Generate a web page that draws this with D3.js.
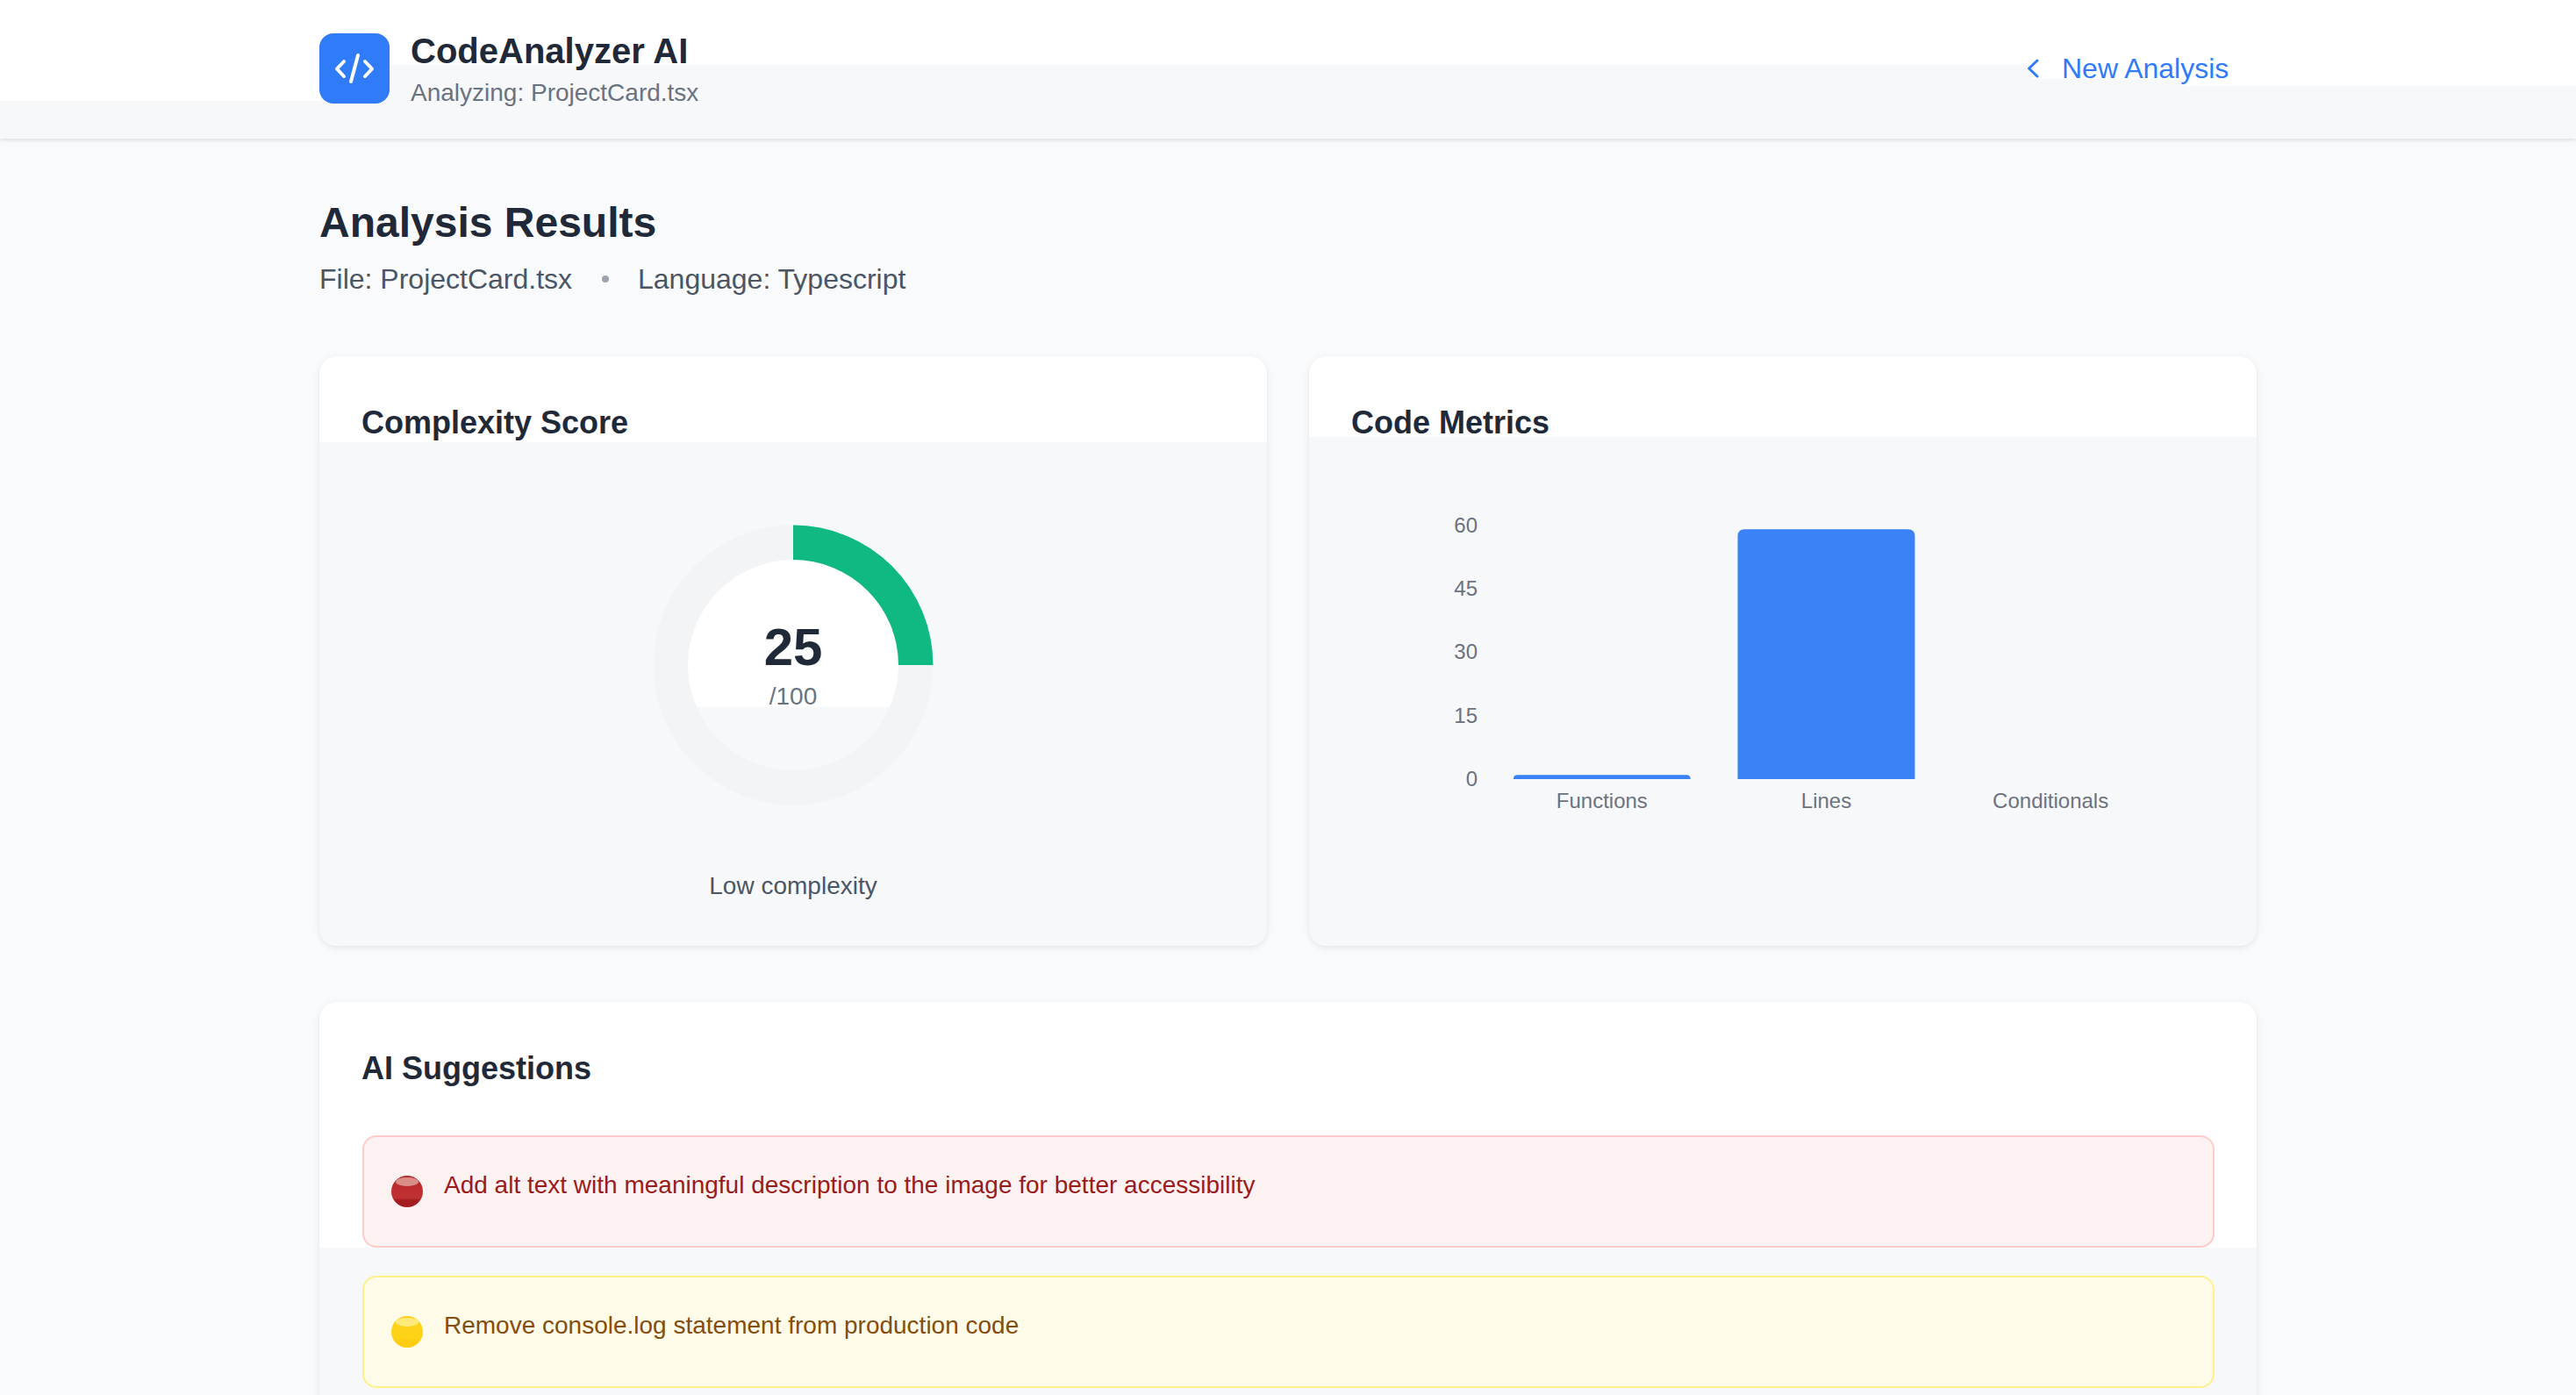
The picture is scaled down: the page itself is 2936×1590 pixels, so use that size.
<!DOCTYPE html>
<html>
<head>
<meta charset="utf-8">
<title>CodeAnalyzer AI</title>
<script src="https://cdn.jsdelivr.net/npm/d3@7"></script>
<style>
    html, body { margin: 0; padding: 0; background: #f9fafb; overflow: hidden; }
    svg { display: block; font-family: "Liberation Sans", Arial, sans-serif; }
    .card { filter: drop-shadow(0 2px 3px rgba(0, 0, 0, 0.09)); }
    .axis text { font-family: "Liberation Sans", Arial, sans-serif; font-size: 24px; fill: #6b7280; }
</style>
</head>
<body>
<div id="chart"></div>
<script>
// 图表数据
const metricNames = ["Functions", "Lines", "Conditionals"];
const metricValues = [1, 59, 0];
const metricTicks = [0, 15, 30, 45, 60];
const complexityScore = 25;
const complexityMax = 100;
const suggestionTexts = [
    "Add alt text with meaningful description to the image for better accessibility",
    "Remove console.log statement from production code"
];
const suggestionKinds = ["red", "yellow"];

const width = 2936;
const height = 1590;
const PATCH = "#f7f8fa";

const svg = d3.select("#chart")
    .append("svg")
    .attr("width", width)
    .attr("height", height);

const defs = svg.append("defs");

function addText(parent, str, x, y, size, color, weight, anchor) {
    return parent.append("text")
        .attr("x", x)
        .attr("y", y)
        .attr("font-size", size)
        .attr("font-weight", weight || "normal")
        .attr("text-anchor", anchor || "start")
        .attr("fill", color)
        .text(str);
}

// 页头
const header = svg.append("g");
header.append("rect").attr("y", 0).attr("width", width).attr("height", 158).attr("fill", PATCH)
    .style("filter", "drop-shadow(0 2px 2px rgba(0,0,0,0.1))");
header.append("rect").attr("width", width).attr("height", 74).attr("fill", "#fff");
header.append("rect").attr("width", 365).attr("height", 115).attr("fill", "#fff");
header.append("rect").attr("x", 2316).attr("width", 180).attr("height", 90).attr("fill", "#fff");
header.append("rect").attr("x", 2492).attr("width", 444).attr("height", 98).attr("fill", "#fff");

header.append("rect")
    .attr("x", 364).attr("y", 38)
    .attr("width", 80).attr("height", 80)
    .attr("rx", 16)
    .attr("fill", "#2f7bf8");

// 图标 </>
const codeIcon = d3.line();
[[[392, 70], [384, 78.5], [392, 87]],
 [[416, 70], [424, 78.5], [416, 87]],
 [[408, 63], [400, 93]]].forEach(p => {
    header.append("path")
        .attr("d", codeIcon(p))
        .attr("fill", "none")
        .attr("stroke", "#fff")
        .attr("stroke-width", 4)
        .attr("stroke-linecap", "round")
        .attr("stroke-linejoin", "round");
});

addText(header, "CodeAnalyzer AI", 468, 72, 40, "#1f2937", "bold");
addText(header, "Analyzing: ProjectCard.tsx", 468, 115, 28, "#6b7280");

header.append("path")
    .attr("d", d3.line()([[2322, 69], [2312.5, 78], [2322, 87]]))
    .attr("fill", "none")
    .attr("stroke", "#2f7bf8")
    .attr("stroke-width", 3)
    .attr("stroke-linecap", "round")
    .attr("stroke-linejoin", "round");
addText(header, "New Analysis", 2350, 89, 32, "#2f7bf8");

// 标题
addText(svg, "Analysis Results", 364, 270, 48, "#1f2937", "bold");
addText(svg, "File: ProjectCard.tsx", 364, 329, 32, "#4b5563");
svg.append("circle").attr("cx", 690).attr("cy", 318).attr("r", 4).attr("fill", "#9ca3af");
addText(svg, "Language: Typescript", 727, 329, 32, "#4b5563");

// 卡片：上半白色，下半灰色
function addCard(id, x, y, w, h, splitY) {
    const g = svg.append("g").attr("class", "card");
    g.append("rect")
        .attr("x", x).attr("y", y)
        .attr("width", w).attr("height", h)
        .attr("rx", 20)
        .attr("fill", "#fff");
    defs.append("clipPath").attr("id", id)
        .append("rect")
        .attr("x", x).attr("y", y)
        .attr("width", w).attr("height", h)
        .attr("rx", 20);
    svg.append("rect")
        .attr("clip-path", `url(#${id})`)
        .attr("x", x).attr("y", splitY)
        .attr("width", w).attr("height", y + h - splitY)
        .attr("fill", PATCH);
}

addCard("clip-score", 364, 406, 1080, 672, 504);
addCard("clip-metrics", 1492, 406, 1080, 672, 498);
addCard("clip-suggest", 364, 1142, 2208, 600, 1422);

addText(svg, "Complexity Score", 412, 494, 36, "#1f2937", "bold");
addText(svg, "Code Metrics", 1540, 494, 36, "#1f2937", "bold");
addText(svg, "AI Suggestions", 412, 1230, 36, "#1f2937", "bold");

// 环形图
const donutX = 904, donutY = 758, outerR = 159.5, innerR = 120;
const angle = d3.scaleLinear().domain([0, complexityMax]).range([0, 2 * Math.PI]);
const arc = d3.arc().innerRadius(innerR).outerRadius(outerR);
const donut = svg.append("g").attr("transform", `translate(${donutX},${donutY})`);

defs.append("clipPath").attr("id", "clip-inner")
    .append("rect")
    .attr("x", -innerR).attr("y", -innerR)
    .attr("width", innerR * 2).attr("height", innerR + 47.5);
donut.append("circle")
    .attr("r", innerR)
    .attr("fill", "#fff")
    .attr("clip-path", "url(#clip-inner)");
donut.append("path")
    .attr("d", arc({ startAngle: 0, endAngle: angle(complexityMax) }))
    .attr("fill", "#f3f4f6");
donut.append("path")
    .attr("d", arc({ startAngle: 0, endAngle: angle(complexityScore) }))
    .attr("fill", "#10b981");

addText(svg, String(complexityScore), donutX, 758, 60, "#1f2937", "bold", "middle");
addText(svg, "/" + complexityMax, donutX, 803, 28, "#6b7280", "normal", "middle");
addText(svg, "Low complexity", donutX, 1019, 28, "#4b5563", "normal", "middle");

// 柱状图
const x = d3.scaleBand()
    .domain(metricNames)
    .range([1698, 2465])
    .paddingInner(0.21)
    .paddingOuter(0.105);
const y = d3.scaleLinear()
    .domain([0, 60])
    .range([888, 598.5]);

const bars = svg.append("g");
metricNames.forEach((name, i) => {
    const v = metricValues[i];
    if (v <= 0) return;
    const x0 = x(name), x1 = x0 + x.bandwidth();
    const top = y(v), base = y(0);
    const r = Math.min(8, base - top);
    bars.append("path")
        .attr("d", `M${x0},${base}V${top + r}Q${x0},${top} ${x0 + r},${top}H${x1 - r}Q${x1},${top} ${x1},${top + r}V${base}Z`)
        .attr("fill", "#3b82f6");
});

const yAxis = svg.append("g")
    .attr("class", "axis")
    .attr("transform", "translate(1684,0)")
    .call(d3.axisLeft(y).tickValues(metricTicks).tickSize(0).tickPadding(0));
yAxis.select(".domain").remove();

const xAxis = svg.append("g")
    .attr("class", "axis")
    .attr("transform", "translate(0,904)")
    .call(d3.axisBottom(x).tickSize(0).tickPadding(0));
xAxis.select(".domain").remove();

// 渐变：圆形提示图标
const iconColors = {
    red: { top: "#b82a2b", light: "#c03232", dark: "#a51d20", shine: "#d98f88" },
    yellow: { top: "#fdd017", light: "#fed316", dark: "#fdcd12", shine: "#ffe97a" }
};
suggestionKinds.forEach(k => {
    const g = defs.append("linearGradient").attr("id", "icon-" + k)
        .attr("x1", 0).attr("y1", 0).attr("x2", 0).attr("y2", 1);
    g.append("stop").attr("offset", "0%").attr("stop-color", iconColors[k].top);
    g.append("stop").attr("offset", "70%").attr("stop-color", iconColors[k].light);
    g.append("stop").attr("offset", "78%").attr("stop-color", iconColors[k].dark);
    g.append("stop").attr("offset", "100%").attr("stop-color", iconColors[k].dark);
});

// 建议列表
const boxStyle = {
    red: { fill: "#fdf2f2", stroke: "#fecaca", text: "#991b1b" },
    yellow: { fill: "#fefce8", stroke: "#fef08a", text: "#854d0e" }
};
const boxTop = d3.scaleLinear().domain([0, 1]).range([1295, 1455]);
suggestionTexts.forEach((t, i) => {
    const k = suggestionKinds[i], s = boxStyle[k], top = boxTop(i);
    svg.append("rect")
        .attr("x", 414).attr("y", top)
        .attr("width", 2109).attr("height", 126)
        .attr("rx", 15)
        .attr("fill", s.fill)
        .attr("stroke", s.stroke)
        .attr("stroke-width", 2);
    svg.append("circle")
        .attr("cx", 464).attr("cy", top + 63)
        .attr("r", 18)
        .attr("fill", `url(#icon-${k})`);
    svg.append("ellipse")
        .attr("cx", 464).attr("cy", top + 52)
        .attr("rx", 13).attr("ry", 5)
        .attr("fill", iconColors[k].shine);
    addText(svg, t, 506, top + 65, 28, s.text);
});
</script>
</body>
</html>
